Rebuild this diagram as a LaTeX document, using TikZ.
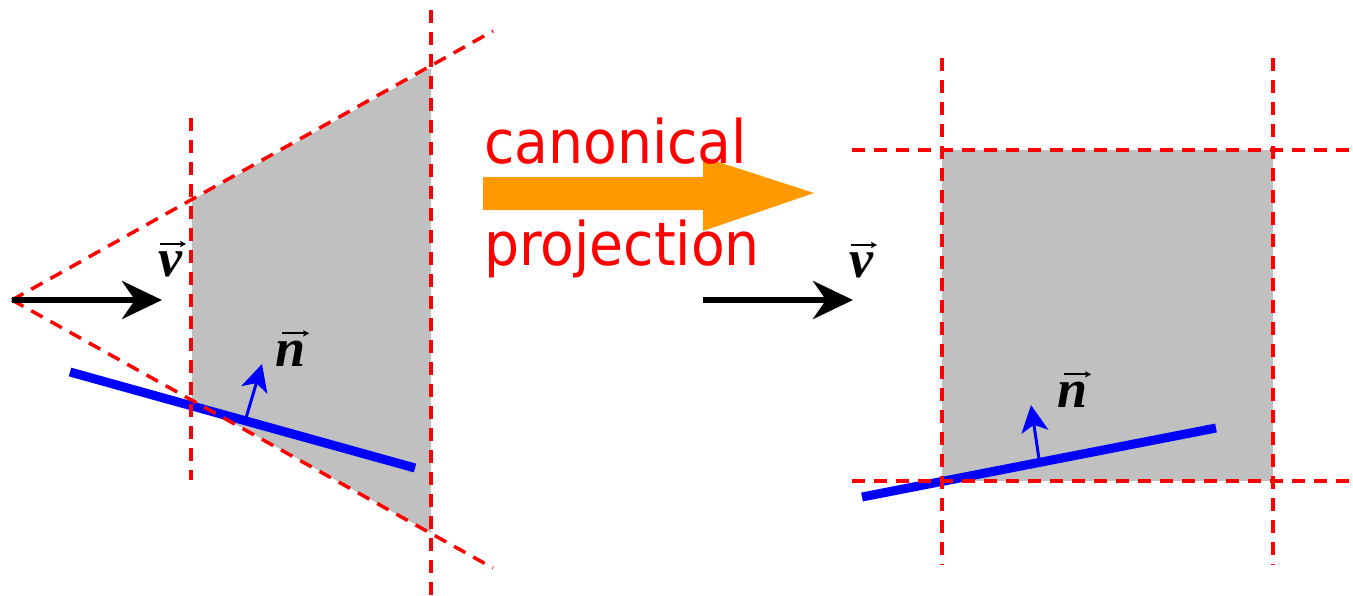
\documentclass[tikz,border=0pt]{standalone}
\usepackage{fontspec}
\newfontfamily\capfont{DejaVu Sans}
\newfontfamily\labfont{Liberation Serif}
\usetikzlibrary{arrows.meta}
\definecolor{fred}{RGB}{255,0,0}
\definecolor{fgray}{RGB}{192,192,192}
\definecolor{fblue}{RGB}{0,0,255}
\definecolor{forange}{RGB}{255,153,0}
\tikzset{
  frust/.style={draw=fred, line width=3.5pt, dash pattern=on 13pt off 9pt},
  region/.style={fill=fgray},
  plane/.style={draw=fblue, line width=9pt},
  normalvec/.style={draw=fblue, line width=3pt, -{Stealth[length=27pt,width=27pt,inset=7pt]}},
  viewvec/.style={draw=black, line width=6pt, -{Stealth[length=40pt,width=38pt,inset=13pt]}},
  vecbar/.style={draw=black, line width=2pt, -{Stealth[length=6pt,width=6pt,inset=1pt]}},
  lab/.style={font=\fontsize{54}{58}\selectfont\labfont\bfseries\itshape, inner sep=0pt, anchor=base},
  captext/.style={text=fred, font=\fontsize{60}{66}\selectfont\capfont, inner sep=0pt, anchor=base west, xscale=0.92},
}
\begin{document}
\begin{tikzpicture}[x=1pt,y=-1pt]
\useasboundingbox (0,0) rectangle (1353,595);
% ---------- left: frustum ----------
\coordinate (apex) at (12,300);
\coordinate (ntop) at (192,200);
\coordinate (nbot) at (192,400);
\coordinate (ftop) at (431,68);
\coordinate (fbot) at (431,533);
\coordinate (uend) at (493,31);
\coordinate (lend) at (493,568);
\coordinate (nvt) at (191,118);
\coordinate (nvb) at (191,480);
\coordinate (fvt) at (431,10);
\coordinate (fvb) at (431,595);
\fill[region] (ntop) -- (ftop) -- (fbot) -- (nbot) -- cycle;
\coordinate (pl1) at (70,372);
\coordinate (pl2) at (415,468);
\draw[plane] (pl1) -- (pl2);
\draw[frust] (apex) -- (uend);
\draw[frust] (apex) -- (lend);
\draw[frust] (nvt) -- (nvb);
\draw[frust] (fvt) -- (fvb);
\coordinate (vL) at (162,300);
\draw[viewvec] (apex) -- (vL);
\coordinate (nbL) at (246,418);
\coordinate (ntL) at (262,364);
\draw[normalvec] (nbL) -- (ntL);
\node[lab] (vlabL) at (170,276) {v};
\draw[vecbar] ([xshift=2pt,yshift=7pt]vlabL.north west) -- ([xshift=4pt,yshift=7pt]vlabL.north east);
\node[lab] (nlabL) at (291,366) {n};
\draw[vecbar] ([xshift=6pt,yshift=7pt]nlabL.north west) -- ([xshift=3pt,yshift=7pt]nlabL.north east);
% ---------- middle: orange arrow and caption ----------
\fill[forange] (483,177) -- (703,177) -- (703,157) -- (814,193) -- (703,231) -- (703,210) -- (483,210) -- cycle;
\node[captext] (cap1) at (484,163) {canonical};
\node[captext] (cap2) at (484,265) {projection};
% ---------- right: canonical box ----------
\coordinate (bl) at (942,481);
\coordinate (tr) at (1273,150);
\fill[region] (bl) rectangle (tr);
\coordinate (pr1) at (862,497);
\coordinate (pr2) at (1216,428);
\draw[plane] (pr1) -- (pr2);
\coordinate (v1t) at (942,58);
\coordinate (v1b) at (942,565);
\coordinate (v2t) at (1273,58);
\coordinate (v2b) at (1273,565);
\coordinate (h1l) at (852,150);
\coordinate (h1r) at (1353,150);
\coordinate (h2l) at (852,481);
\coordinate (h2r) at (1353,481);
\draw[frust] (v1t) -- (v1b);
\draw[frust] (v2t) -- (v2b);
\draw[frust] (h1l) -- (h1r);
\draw[frust] (h2l) -- (h2r);
\coordinate (vRs) at (703,300);
\coordinate (vRe) at (853,300);
\draw[viewvec] (vRs) -- (vRe);
\coordinate (nbR) at (1039,459);
\coordinate (ntR) at (1031,405);
\draw[normalvec] (nbR) -- (ntR);
\node[lab] (vlabR) at (861,277) {v};
\draw[vecbar] ([xshift=2pt,yshift=7pt]vlabR.north west) -- ([xshift=4pt,yshift=7pt]vlabR.north east);
\node[lab] (nlabR) at (1073,407) {n};
\draw[vecbar] ([xshift=6pt,yshift=7pt]nlabR.north west) -- ([xshift=3pt,yshift=7pt]nlabR.north east);
\end{tikzpicture}
\end{document}
